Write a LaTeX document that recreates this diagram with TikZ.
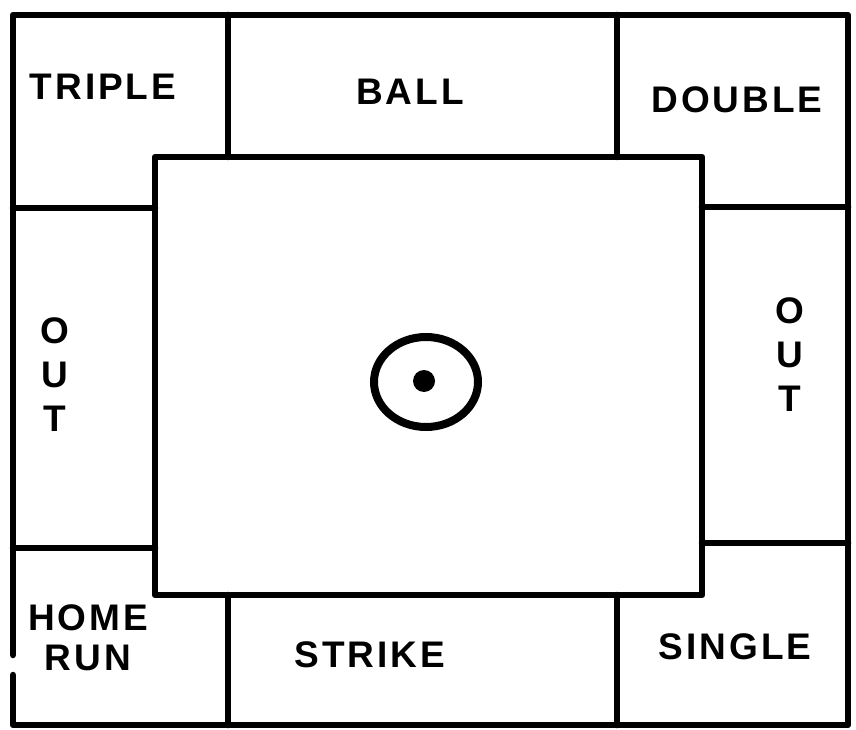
\documentclass[tikz,border=0pt]{standalone}
\usepackage{fontspec}
\setmainfont{Liberation Sans}[LetterSpace=8]
\begin{document}
\begin{tikzpicture}[x=1pt,y=-1pt,
  edge/.style={line width=6.5pt,line cap=round,line join=round},
  lbl/.style={font=\bfseries\fontsize{37}{40}\selectfont,inner sep=0pt,align=center},
  vlbl/.style={font=\bfseries\fontsize{37}{44}\selectfont,inner sep=0pt,align=center}]
\useasboundingbox (0,0) rectangle (856,730);
% outer border (left side has a small break)
\draw[edge] (13,655) -- (13,15) -- (848,15) -- (848,725) -- (13,725) -- (13,675);
% central square
\draw[edge] (155,157) rectangle (702,595);
% top dividers
\draw[edge] (228,15) -- (228,157);
\draw[edge] (617,15) -- (617,157);
% left column dividers
\draw[edge] (13,208) -- (155,208);
\draw[edge] (13,548) -- (155,548);
% right column dividers
\draw[edge] (702,207) -- (848,207);
\draw[edge] (702,543) -- (848,543);
% bottom dividers
\draw[edge] (228,595) -- (228,725);
\draw[edge] (617,595) -- (617,725);
% target
\draw[line width=8pt] (426,382) ellipse [x radius=52, y radius=45];
\fill (424,381) circle [radius=11];
% labels
\node[lbl] (triple) at (103,87) {TRIPLE};
\node[lbl] (ball) at (410,92) {BALL};
\node[lbl] (double) at (737,100) {DOUBLE};
\node[vlbl] (outl) at (55,375) {O\\U\\T};
\node[vlbl] (outr) at (790,355) {O\\U\\T};
\node[lbl] (home) at (88,638) {HOME\\RUN};
\node[lbl] (strike) at (370,655) {STRIKE};
\node[lbl] (single) at (735,647) {SINGLE};
\end{tikzpicture}
\end{document}
